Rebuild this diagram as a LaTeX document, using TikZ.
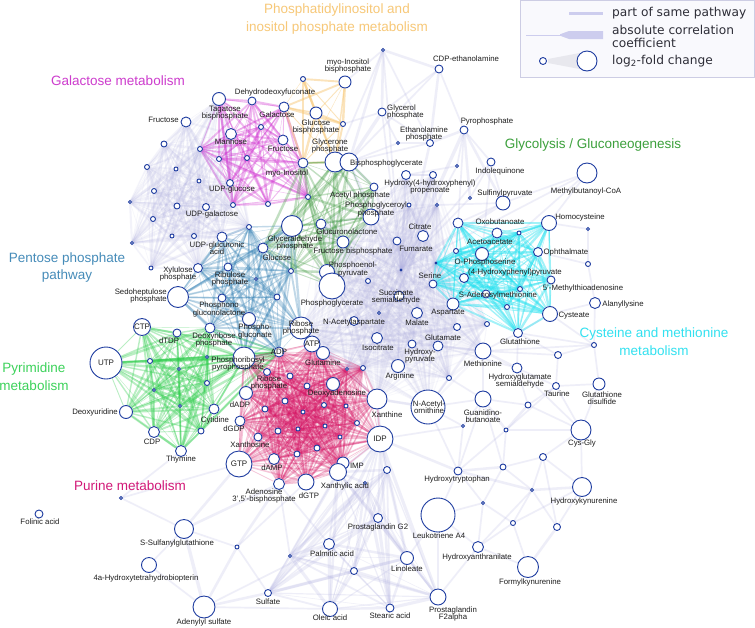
\documentclass[tikz,border=0pt]{standalone}
\usepackage{fontspec}
\setmainfont{Liberation Sans}
\newfontfamily\legfont{DejaVu Sans}
\usetikzlibrary{backgrounds}
\definecolor{nblue}{RGB}{30,60,160}
\definecolor{lav}{RGB}{180,180,226}
\definecolor{cgal}{RGB}{210,55,210}
\definecolor{cino}{RGB}{247,195,105}
\definecolor{cgly}{RGB}{55,150,55}
\definecolor{cpen}{RGB}{50,128,180}
\definecolor{cpyr}{RGB}{45,205,75}
\definecolor{cpur}{RGB}{215,20,100}
\definecolor{ccys}{RGB}{35,225,240}
\definecolor{tgal}{RGB}{205,60,205}
\definecolor{tino}{RGB}{247,200,120}
\definecolor{tgly}{RGB}{60,160,60}
\definecolor{tpen}{RGB}{70,140,185}
\definecolor{tpyr}{RGB}{60,210,90}
\definecolor{tcys}{RGB}{50,225,240}
\definecolor{tpur}{RGB}{210,25,120}
\definecolor{txt}{RGB}{30,30,30}
\definecolor{legtxt}{RGB}{45,45,55}
\definecolor{legline}{RGB}{205,205,238}
\definecolor{legboxd}{RGB}{205,205,228}
\definecolor{legboxf}{RGB}{249,249,253}
\definecolor{legwedge}{RGB}{232,232,238}
\tikzset{
  mn/.style={circle,draw=nblue,fill=white,line width=0.9pt,inner sep=0pt},
  lab/.style={font=\fontsize{7.8}{7.4}\selectfont,text=txt,inner sep=0pt,align=center},
  intx/.style={font=\fontsize{8}{8}\selectfont,text=txt},
  ttl/.style={font=\fontsize{13.5}{17.5}\selectfont,inner sep=0pt,align=center},
  leg/.style={font=\legfont\fontsize{12.2}{13}\selectfont,text=legtxt,inner sep=0pt},
  elav/.style={draw=lav,draw opacity=0.22},
  elavl/.style={draw=lav,draw opacity=0.15},
  elavc/.style={draw=lav,draw opacity=0.11},
  egal/.style={draw=cgal,draw opacity=0.34},
  eino/.style={draw=cino,draw opacity=0.45},
  egly/.style={draw=cgly,draw opacity=0.3},
  epen/.style={draw=cpen,draw opacity=0.3},
  epyr/.style={draw=cpyr,draw opacity=0.33},
  epur/.style={draw=cpur,draw opacity=0.24},
  ecys/.style={draw=ccys,draw opacity=0.42},
}
\newcommand\myclique[3]{%
  \foreach \ma [count=\ii] in {#3}{%
    \foreach \mb [count=\jj] in {#3}{%
      \ifnum\jj>\ii\relax
        \pgfmathsetmacro\mw{(0.4+0.5*mod(\ii*7+\jj*13,5))*#2}%
        \draw[#1,line width=\mw pt] (\ma) -- (\mb);%
      \fi}}}
\begin{document}
\begin{tikzpicture}[x=1pt,y=-1pt]
\useasboundingbox (0,0) rectangle (755,627);
% ---------- metabolite nodes ----------
\foreach \n/\x/\y/\d in {
tagb/219/99/13,dhdf/252/101/8,galac/284/107/10,fruL/186/122/10,mann/231/134/11,fru/283/140/10,myoi/303/163/10,udpglc/230/183/7,udpgal/206/207/7,
g1/164/144/6,g2/200/149/5,g3/147/167/5,g4/176/169/4,g5/219/159/5,g6/247/158/5,g7/199/181/4,g8/154/191/5,g9/130/202/3,g10/177/206/6,g11/233/205/5,g12/261/127/5,g13/268/204/5,g14/308/197/5,
myoib/345/82/12,i1/303/79/5,glcbp/316/113/12,i2/343/124/5,glyc/335/162/20,bpg/349/162/18,
t1/383/50/3,cdpe/439/69/8,glyp/382/112/8,ppi/464/130/8,etap/430/143/7,t2/398/143/3,indq/491/162/8,t3/457/166/3,hpp/406/175/9,t4/433/175/7,acp/374/187/8,t5/470/198/3,sulf/503/203/14,t6/409/205/4,t7/437/205/3,mbcoa/587/173/20,
pgp/371/217/16,gap/292/226/21,glcl/321/224/10,fbp/343/242/12,glc/263/248/10,c1/397/241/8,cit/423/236/11,pep/327/272/15,pg/332/286/26,c2/291/271/5,c3/256/279/3,c4/368/281/5,hub/401/270/2,c5/436/263/2,ser/433/284/8,ssa/399/296/10,c6/277/297/6,naa/354/321/9,c7/379/313/3,mal/417/313/11,ribp/301/328/22,iso/377/338/11,hpyr/412/344/8,gln/323/353/13,arg/398/366/13,xan/377/399/20,naorn/428/407/34,
oxob/458/223/10,acac/497/233/10,y1/456/251/5,ops/482/254/13,y2/464/278/9,sam/486/294/8,asp/453/304/12,y3/507/307/5,y4/457/327/7,y5/487/324/5,glu/438/346/10,met/483/351/16,y6/449/378/5,guan/483/399/16,hcys/549/223/15,y7/588/229/3,y8/519/233/4,oph/538/252/9,y9/588/264/5,hpp2/551/280/8,mta/520/289/5,cyst/550/314/15,alal/595/303/11,gsh/518/333/9,y10/594/345/5,y11/558/355/7,hgs/517/368/10,taur/556/386/7,gssg/599/384/12,y12/528/405/6,
udpga/222/237/10,p1/249/227/5,p2/153/219/5,p3/172/236/4,p4/194/236/5,p5/132/243/3,p6/151/268/4,xylp/198/268/9,rulp/228/267/8,sedp/178/297/21,pgl/222/298/8,pgc/249/319/13,drp/210/328/10,
dtdp/177/333/8,q1/150/361/5,q2/207/357/3,prpp/244/358/22,q3/179/369/3,q4/207/383/5,q5/154/390/3,q6/180/406/3,dur/126/412/13,cyt/214/409/10,cdp/154/432/11,thy/181/451/11,q7/201/431/6,
rp2/267/372/7,u1/290/376/6,u2/307/386/6,dado/333/384/13,u3/347/369/3,u4/363/368/5,dadp/246/393/13,u5/285/401/6,u6/265/409/6,u7/303/412/4,u8/324/405/5,u9/346/406/4,dgdp/240/421/10,u10/278/431/6,u11/298/429/4,u12/325/426/4,u13/357/423/5,u14/340/437/4,u15/258/437/8,u16/317/448/6,u17/297/454/6,damp/274/459/11,imp/343/463/12,xmp/338/472/17,dgtp/306/482/16,pap/279/484/11,u18/387/470/7,u19/365/483/3,
l1/121/498/3,folin/39/514/8,sst/184/529/19,l2/237/547/4,h4b/149/565/15,aps/204/607/22,sulfate/268/593/7,htrp/458/471/8,l3/503/467/6,l4/483/503/3,l5/463/426/3,l6/506/430/4,pgg2/378/518/9,lta4/438/515/34,haa/478/547/11,palm/329/544/11,l7/290/556/3,lino/407/558/13,l8/354/571/7,pgf/438/597/16,olei/330/609/15,stea/390/608/8,cysgly/581/430/20,l9/543/457/7,hkyn/582/487/19,l10/532/490/3,l11/513/523/5,l12/557/527/7,fkyn/528/567/21}
{\node[mn,minimum size=\d pt] (\n) at (\x,\y) {};}
\node[mn,minimum size=15pt,intx] (ctp) at (142,327) {CTP};
\node[mn,minimum size=32pt,intx] (utp) at (106,363) {UTP};
\node[mn,minimum size=14pt,intx] (atp) at (312,344) {ATP};
\node[mn,minimum size=10pt] (adp) at (279,352) {};
\node[mn,minimum size=26pt,intx] (gtp) at (239,464) {GTP};
\node[mn,minimum size=26pt,intx] (idp) at (380,439) {IDP};
% ---------- edges ----------
\begin{pgfonlayer}{background}
\fill[white] (0,0) rectangle (755,627);
\myclique{elavl}{1.1}{fruL,g1,g3,g4,g7,g8,g9,g10,udpgal,p2,p3,p4,p5,udpga,g2,tagb,mann,udpglc,g11,p1,xylp,p6}
\myclique{elavc}{1.1}{hub,pg,pep,ssa,mal,naa,iso,arg,hpyr,glu,asp,ser,cit,c1,c4,c7,xan,naorn,met,y4,y5,y6,gln,atp,ribp,pgp,t6,t7,hpp,t4,fbp,glcl,u3,u4,c5}
\myclique{elav}{1.3}{u18,pgg2,palm,lino,stea,olei,l8,pgf,l7,sulfate,idp,xmp,u19}
\foreach \ma/\mb/\w in {t1/glyp/1.5,t1/cdpe/1.5,t1/etap/1,t1/bpg/1.5,t1/glyc/1,t1/hub/1,cdpe/etap/1.5,cdpe/glyp/1,cdpe/bpg/1,glyp/etap/1,glyp/bpg/2,glyp/hub/1,etap/ppi/1.5,etap/bpg/1,etap/hub/1.5,etap/t2/1,t2/glyp/1,t2/bpg/1,ppi/t5/1.5,ppi/hub/2,ppi/indq/1,ppi/sulf/1.5,ppi/t3/1,indq/hub/1,indq/t5/1,indq/sulf/1,t3/hub/1,t3/hpp/1,hpp/hub/1.5,hpp/t4/1,t4/hub/1,acp/hub/1.5,acp/pgp/1,acp/bpg/1.5,t6/hub/1,t7/hub/1,t5/hub/1,sulf/hub/2,sulf/t7/1,cit/hub/1.5,c1/hub/1.5,mbcoa/hub/1,mbcoa/sulf/1,mbcoa/hcys/1,mbcoa/y8/1,hcys/y7/1,y7/y9/1,y9/oph/1,y9/alal/1,alal/cyst/1,alal/y10/1,bpg/pgp/1.5,bpg/hub/1,glyc/hub/1,i2/glyp/1,myoib/t1/1,ppi/oxob/1,sulf/oxob/1,indq/ops/1,cdpe/ppi/1,
aps/sst/2,aps/sulfate/1.5,aps/l2/1.5,aps/olei/1,aps/palm/1,sst/l1/1,sst/pap/1.5,sst/gtp/1.5,sst/h4b/1,sst/l2/1,l1/gtp/1,l1/thy/1,l2/pap/1.5,l2/sulfate/1,h4b/aps/1,pap/palm/1,pap/l7/1,l2/dgtp/1,
cysgly/l6/1.5,cysgly/y12/1,cysgly/taur/1,cysgly/gssg/1,cysgly/hgs/1,cysgly/l9/1,cysgly/hkyn/1,l6/y12/1.5,l6/htrp/1,l6/l3/1,l6/guan/1.5,l3/l9/1,l3/l10/1,l3/htrp/1.5,l9/hkyn/1,l9/l10/1,l10/hkyn/1.5,l10/l11/1,l10/l12/1,l10/haa/1,l10/htrp/1.5,l11/fkyn/1,l11/haa/1,l12/fkyn/1.5,l12/hkyn/1,l11/l4/1,l4/haa/1,l4/lta4/1,l4/htrp/1,htrp/guan/1,htrp/l5/1,l5/guan/1,l5/idp/1,guan/met/1.5,met/hgs/1.5,met/y10/1,met/y11/1,hgs/taur/1,hgs/y12/1,taur/gssg/1,y11/gsh/1,y11/y10/1,y10/gsh/1,y10/cyst/1,y11/taur/1,gsh/hgs/1,gsh/met/1,gsh/cyst/1,fkyn/haa/1,haa/lta4/1,lta4/pgf/1,lta4/htrp/1,htrp/idp/1.5,naorn/guan/1,naorn/htrp/1,xan/idp/2,idp/u18/2,guan/y12/1,y12/taur/1,met/y4/1,met/glu/1.5,glu/y6/1,y6/naorn/1,naorn/xan/1.5,naorn/l5/1,hgs/glu/1,taur/l6/1,gssg/y10/1,y6/guan/1,l3/guan/1,l12/l9/1,hkyn/l11/1,haa/pgf/1,lino/lta4/1,l3/l4/1}
{\draw[elav,line width=1.7*\w pt] (\ma) -- (\mb);}
\myclique{egal}{1}{tagb,dhdf,galac,mann,fru,myoi,udpglc,g2,g5,g6,g12,g14,g13,g11}
\myclique{eino}{1}{myoib,i1,glcbp,i2,glyc,myoi,galac}
\myclique{egly}{1}{glyc,bpg,acp,pgp,gap,glcl,fbp,pep,pg,glc,c2,g14,myoi}
\myclique{epen}{1}{gap,glc,xylp,rulp,sedp,pgl,pgc,drp,ribp,c2,c3,c6,prpp,adp,p1,udpga}
\myclique{epyr}{1}{ctp,dtdp,utp,q1,q2,q3,q4,q5,q6,dur,cyt,cdp,thy,q7,prpp,drp,adp}
\draw[epyr,line width=3pt] (utp) -- (prpp);
\draw[epyr,line width=2.5pt] (q2) -- (q4);
\myclique{epur}{0.8}{prpp,adp,atp,gln,rp2,u1,u2,dado,u3,u4,dadp,u5,u6,u7,u8,u9,dgdp,u10,u11,u12,u13,u14,u15,u16,u17,damp,imp,xmp,gtp,dgtp,pap,idp,xan}
\myclique{ecys}{1}{ser,c5,oxob,acac,y1,ops,y2,sam,y3,y8,hcys,oph,hpp2,mta,cyst,gsh,asp}
\end{pgfonlayer}
% ---------- labels ----------
\node[lab] (Ladp) at (279,352) {ADP};
\node[lab] (Ltagb) at (225,113) {Tagatose\\bisphosphate};
\node[lab] (Ldhdf) at (275,92) {Dehydrodeoxyfuconate};
\node[lab] (Lgalac) at (277,115) {Galactose};
\node[lab,anchor=east] (LfruL) at (179,120) {Fructose};
\node[lab] (Lmann) at (231,142) {Mannose};
\node[lab] (Lfru) at (283,149) {Fructose};
\node[lab] (Lmyoi) at (287,173) {myo-Inositol};
\node[lab] (Ludpglc) at (232,189) {UDP-glucose};
\node[lab] (Ludpgal) at (212,214) {UDP-galactose};
\node[lab] (Lmyoib) at (348,66) {myo-Inositol\\bisphosphate};
\node[lab] (Lglcbp) at (316,127) {Glucose\\bisphosphate};
\node[lab] (Lglyc) at (330,146) {Glycerone\\phosphate};
\node[lab,anchor=west] (Lbpg) at (350,163) {Bisphosphoglycerate};
\node[lab] (Lcdpe) at (466,59) {CDP-ethanolamine};
\node[lab,anchor=west,align=left] (Lglyp) at (387,112) {Glycerol\\phosphate};
\node[lab] (Lppi) at (487,121) {Pyrophosphate};
\node[lab] (Letap) at (424,134) {Ethanolamine\\phosphate};
\node[lab] (Lindq) at (500,171) {Indolequinone};
\node[lab] (Lhpp) at (430,187) {Hydroxy(4-hydroxyphenyl)\\propenoate};
\node[lab] (Lacp) at (360,195) {Acetyl phosphate};
\node[lab] (Lsulf) at (505,193) {Sulfinylpyruvate};
\node[lab] (Lmbcoa) at (586,191) {Methylbutanoyl-CoA};
\node[lab] (Lpgp) at (376,209.5) {Phosphoglyceroyl\\phosphate};
\node[lab] (Lgap) at (295,243) {Glyceraldehyde\\phosphate};
\node[lab] (Lglcl) at (347,232) {Glucuronolactone};
\node[lab] (Lfbp) at (353,251) {Fructose bisphosphate};
\node[lab] (Lglc) at (277,258) {Glucose};
\node[lab] (Lcit) at (420,227) {Citrate};
\node[lab] (Lfum) at (416,249) {Fumarate};
\node[lab] (Lpep) at (353,269.5) {Phosphoenol-\\pyruvate};
\node[lab] (Lpg) at (332,303) {Phosphoglycerate};
\node[lab] (Lser) at (430,276) {Serine};
\node[lab] (Lssa) at (396,297) {Succinate\\semialdehyde};
\node[lab] (Lnaa) at (354,322) {N-Acetylaspartate};
\node[lab] (Lmal) at (417,323) {Malate};
\node[lab] (Lribp) at (301,328) {Ribose\\phosphate};
\node[lab] (Liso) at (378,348) {Isocitrate};
\node[lab] (Lhpyr) at (420,356) {Hydroxy-\\pyruvate};
\node[lab] (Lgln) at (323,363) {Glutamine};
\node[lab] (Larg) at (400,376) {Arginine};
\node[lab] (Lxan) at (387,415) {Xanthine};
\node[lab] (Lnaorn) at (429,407.5) {N-Acetyl-\\ornithine};
\node[lab] (Loxob) at (500,222) {Oxobutanoate};
\node[lab] (Lacac) at (490,242) {Acetoacetate};
\node[lab] (Lops) at (485,262) {O-Phosphoserine};
\node[lab] (Lhppyr) at (515,272) {(4-Hydroxyphenyl)pyruvate};
\node[lab] (Lsam) at (498,295) {S-Adenosylmethionine};
\node[lab] (Lasp) at (448,313) {Aspartate};
\node[lab] (Lglu) at (443,338) {Glutamate};
\node[lab] (Lmet) at (483,364) {Methionine};
\node[lab] (Lguan) at (483,416) {Guanidino-\\butanoate};
\node[lab] (Lhcys) at (580,217) {Homocysteine};
\node[lab] (Loph) at (566,252) {Ophthalmate};
\node[lab] (Lmta) at (583,288) {5'-Methylthioadenosine};
\node[lab] (Lcyst) at (574,316) {Cysteate};
\node[lab] (Lalal) at (623,304) {Alanyllysine};
\node[lab] (Lgsh) at (520,342) {Glutathione};
\node[lab] (Lhgs) at (520,381) {Hydroxyglutamate\\semialdehyde};
\node[lab] (Ltaur) at (557,394) {Taurine};
\node[lab] (Lgssg) at (602,398) {Glutathione\\disulfide};
\node[lab] (Ludpga) at (217,248) {UDP-glucuronic\\acid};
\node[lab] (Lxylp) at (178,274) {Xylulose\\phosphate};
\node[lab] (Lrulp) at (230,279) {Ribulose\\phosphate};
\node[lab,anchor=east,align=right] (Lsedp) at (167,296) {Sedoheptulose\\phosphate};
\node[lab] (Lpgl) at (219,309.5) {Phosphono\\gluconolactone};
\node[lab] (Lpgc) at (255,331.5) {Phospho-\\gluconate};
\node[lab] (Ldrp) at (214,340) {Deoxyribose\\phosphate};
\node[lab] (Ldtdp) at (169,341) {dTDP};
\node[lab] (Lprpp) at (238,364) {Phosphoribosyl\\pyrophosphate};
\node[lab,anchor=east] (Ldur) at (118,412) {Deoxyuridine};
\node[lab] (Lcyt) at (215,420) {Cytidine};
\node[lab] (Lcdp) at (152,442) {CDP};
\node[lab] (Lthy) at (181,459) {Thymine};
\node[lab] (Lrp2) at (269,383) {Ribose\\phosphate};
\node[lab] (Ldado) at (337,393) {Deoxyadenosine};
\node[lab] (Ldadp) at (240,405) {dADP};
\node[lab] (Ldgdp) at (234,429) {dGDP};
\node[lab] (Lxao) at (250,445) {Xanthosine};
\node[lab] (Ldamp) at (272,468) {dAMP};
\node[lab] (Limp) at (357,466) {IMP};
\node[lab] (Lxmp) at (345,486) {Xanthylic acid};
\node[lab] (Ldgtp) at (309,496) {dGTP};
\node[lab] (Lpap) at (264,496) {Adenosine\\3',5'-bisphosphate};
\node[lab] (Lfolin) at (40,522) {Folinic acid};
\node[lab] (Lsst) at (177,543) {S-Sulfanylglutathione};
\node[lab] (Lh4b) at (146,578) {4a-Hydroxytetrahydrobiopterin};
\node[lab] (Laps) at (204,622) {Adenylyl sulfate};
\node[lab] (Lsulfate) at (268,602) {Sulfate};
\node[lab] (Lhtrp) at (457,479) {Hydroxytryptophan};
\node[lab] (Lpgg2) at (378,527) {Prostaglandin G2};
\node[lab] (Llta4) at (439,536) {Leukotriene A4};
\node[lab] (Lhaa) at (477,557) {Hydroxyanthranilate};
\node[lab] (Lpalm) at (332,554) {Palmitic acid};
\node[lab] (Llino) at (407,569) {Linoleate};
\node[lab] (Lolei) at (330,618) {Oleic acid};
\node[lab] (Lstea) at (390,616) {Stearic acid};
\node[lab] (Lpgf) at (453,614) {Prostaglandin\\F2alpha};
\node[lab] (Lcysgly) at (582,443) {Cys-Gly};
\node[lab] (Lhkyn) at (584,501) {Hydroxykynurenine};
\node[lab] (Lfkyn) at (530,582) {Formylkynurenine};
% ---------- pathway titles ----------
\node[ttl,text=tgal] (Tgal) at (118,81) {Galactose metabolism};
\node[ttl,text=tino] (Tino) at (337,19) {Phosphatidylinositol and\\inositol phosphate metabolism};
\node[ttl,text=tgly] (Tgly) at (593,145) {Glycolysis / Gluconeogenesis};
\node[ttl,text=tpen] (Tpen) at (67,267.5) {Pentose phosphate\\pathway};
\node[ttl,text=tpyr] (Tpyr) at (34,376.5) {Pyrimidine\\metabolism};
\node[ttl,text=tcys] (Tcys) at (654,341.5) {Cysteine and methionine\\metabolism};
\node[ttl,text=tpur] (Tpur) at (130,486) {Purine metabolism};
% ---------- legend ----------
\draw[draw=legboxd,fill=legboxf,line width=1pt] (520,0.5) rectangle (754.5,77);
\coordinate (la1) at (569,13);
\coordinate (la2) at (603,13);
\draw[draw=legline,line width=3pt] (la1) -- (la2);
\coordinate (lb1) at (526,35);
\coordinate (lb2) at (562,35);
\draw[draw=legline,line width=0.8pt] (lb1) -- (lb2);
\fill[legline] (560,34.3) -- (569,31) -- (603,31) -- (603,39) -- (569,39) -- (560,35.7) -- cycle;
\fill[legwedge] (548,59) -- (585,52) -- (585,70) -- (548,63) -- cycle;
\node[mn,minimum size=7pt] (lgs) at (543,61) {};
\node[mn,minimum size=20pt] (lgb) at (587,61) {};
\node[leg,anchor=west] (lg1) at (612,13) {part of same pathway};
\node[leg,anchor=west,align=left] (lg2) at (612,36.5) {absolute correlation\\coefficient};
\node[leg,anchor=west] (lg3) at (612,61) {log\textsubscript{2}-fold change};
\end{tikzpicture}
\end{document}
